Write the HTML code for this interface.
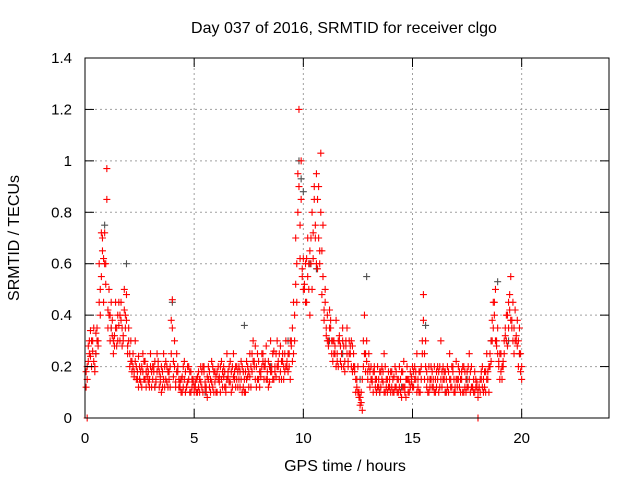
<!DOCTYPE html>
<html><head><meta charset="utf-8"><style>
body{margin:0;background:#fff;}
svg text{font-family:"Liberation Sans",sans-serif;font-size:15px;fill:#000;}
svg text.big{font-size:16px;}
</style></head><body>
<svg id="chart" width="640" height="480" xmlns="http://www.w3.org/2000/svg">
<rect width="640" height="480" fill="#fff"/>
<text class="big" x="344" y="33" text-anchor="middle">Day 037 of 2016, SRMTID for receiver clgo</text>
<text class="big" x="345" y="471" text-anchor="middle">GPS time / hours</text>
<text class="big" transform="translate(19,238) rotate(-90)" text-anchor="middle">SRMTID / TECUs</text>
<g id="grid"></g>
<g id="marks"></g>
<g id="axes"></g>
</svg>
<script>
const xTicks=[0,5,10,15,20];
const yTicks=[0,0.2,0.4,0.6,0.8,1,1.2,1.4];
const yTickLabels=["0","0.2","0.4","0.6","0.8","1","1.2","1.4"];
const hours=[];
for(let i=1;i<=200;i++)hours.push(+(i*0.1).toFixed(1));
const hoursHalf=[];
for(let i=1;i<=200;i++)hoursHalf.push(+(i*0.1-0.05).toFixed(2));
const redA=[.2,.25,.3,.22,.33,.28,.4,.7,.6,.97,
.5,.35,.3,.45,.4,.3,.35,.5,.48,.35,
.3,.25,.22,.18,.15,.2,.15,.12,.18,.2,
.15,.22,.18,.12,.2,.25,.15,.18,.12,.46,
.3,.18,.12,.15,.2,.1,.14,.18,.12,.1,
.15,.12,.2,.1,.14,.16,.12,.22,.18,.1,
.15,.2,.12,.18,.25,.14,.1,.16,.2,.12,
.18,.1,.15,.22,.12,.2,.3,.15,.25,.18,
.2,.15,.28,.12,.18,.25,.2,.3,.15,.22,
.2,.3,.25,.15,.35,.3,.6,1.2,.85,.5,
.45,.55,.65,.8,.9,.95,.7,1.03,.75,.5,
.4,.35,.3,.25,.38,.2,.28,.3,.22,.35,
.25,.3,.2,.15,.1,.05,.03,.25,.3,.2,
.15,.18,.12,.2,.1,.15,.25,.12,.18,.1,
.15,.2,.1,.12,.18,.22,.08,.15,.12,.2,
.15,.25,.1,.2,.48,.3,.15,.12,.18,.1,
.12,.18,.3,.15,.1,.2,.25,.12,.15,.22,
.15,.1,.2,.12,.18,.25,.12,.1,.15,.08,
.15,.2,.12,.25,.1,.3,.45,.5,.35,.25,
.2,.3,.4,.35,.55,.45,.3,.38,.25,.2];
const redB=[.15,.3,.2,.35,.25,.3,.5,.65,.72,.85,
.4,.45,.25,.35,.3,.4,.28,.42,.38,.3,
.22,.2,.3,.15,.2,.12,.22,.18,.14,.25,
.2,.12,.25,.18,.1,.15,.22,.12,.2,.35,
.2,.25,.15,.1,.12,.18,.2,.1,.15,.12,
.1,.18,.14,.2,.12,.08,.18,.14,.1,.16,
.2,.1,.18,.12,.15,.2,.18,.25,.12,.18,
.12,.2,.1,.15,.18,.12,.22,.28,.15,.12,
.25,.2,.15,.22,.3,.15,.18,.2,.25,.15,
.15,.2,.18,.3,.22,.4,.45,.9,1.0,.62,
.6,.7,.4,.5,.85,.6,.9,.8,.55,.45,
.3,.42,.25,.3,.2,.3,.22,.35,.18,.25,
.3,.2,.25,.1,.2,.08,.15,.4,.22,.25,
.2,.1,.15,.12,.18,.2,.1,.15,.12,.18,
.1,.12,.15,.2,.08,.12,.15,.1,.18,.12,
.2,.1,.18,.15,.38,.2,.1,.15,.12,.2,
.18,.1,.15,.2,.18,.12,.15,.2,.1,.15,
.2,.15,.1,.18,.12,.15,.2,.15,.12,.1,
.1,.12,.18,.15,.2,.22,.35,.3,.25,.15,
.15,.25,.3,.45,.38,.3,.42,.28,.35,.15];
const redC=[.12,.22,.34,.26,.18,.3,.45,.55,.62,.52,
.42,.3,.38,.32,.28,.36,.45,.32,.4,.28,
.25,.18,.16,.2,.24,.14,.18,.22,.16,.12,
.18,.2,.14,.22,.16,.12,.2,.14,.18,.38,
.16,.14,.2,.12,.16,.22,.12,.15,.18,.14,
.12,.16,.1,.18,.2,.12,.15,.1,.2,.14,
.18,.14,.22,.16,.1,.18,.22,.12,.15,.2,
.15,.22,.18,.1,.2,.16,.25,.2,.12,.22,
.16,.22,.2,.18,.14,.2,.26,.16,.22,.18,
.25,.18,.22,.2,.28,.25,.52,.8,.75,.55,
.5,.45,.6,.7,.62,.75,.85,.6,.65,.42,
.35,.3,.38,.22,.28,.25,.32,.2,.28,.3,
.2,.25,.28,.18,.15,.1,.06,.3,.18,.15,
.18,.14,.2,.15,.12,.18,.14,.2,.1,.15,
.12,.16,.18,.1,.15,.12,.1,.2,.14,.16,
.12,.18,.15,.1,.3,.25,.18,.2,.15,.12,
.15,.2,.12,.18,.15,.1,.18,.15,.2,.12,
.12,.18,.15,.2,.1,.12,.18,.12,.18,.14,
.12,.15,.1,.18,.15,.25,.3,.4,.28,.2,
.18,.22,.35,.28,.42,.35,.25,.32,.3,.18];
const redD=[.18,.28,.24,.3,.2,.35,.6,.72,.45,.6,
.35,.4,.32,.28,.35,.45,.38,.3,.35,.25,
.2,.22,.18,.15,.12,.18,.25,.15,.2,.15,
.12,.18,.15,.2,.14,.18,.12,.2,.15,.25,
.22,.12,.18,.14,.1,.15,.12,.2,.1,.15,
.14,.1,.15,.12,.18,.1,.2,.15,.12,.18,
.1,.16,.15,.2,.12,.16,.14,.2,.18,.15,
.2,.15,.12,.18,.16,.25,.18,.22,.2,.15,
.18,.25,.22,.15,.2,.18,.15,.25,.2,.28,
.22,.25,.2,.25,.3,.45,.7,.95,.62,.58,
.52,.62,.5,.6,.72,.7,.58,.65,.48,.38,
.32,.28,.35,.3,.25,.22,.3,.25,.2,.28,
.22,.28,.18,.2,.12,.08,.1,.2,.25,.18,
.12,.15,.18,.1,.15,.12,.18,.1,.15,.12,
.18,.1,.12,.15,.1,.18,.12,.15,.1,.14,
.18,.15,.12,.18,.25,.15,.12,.1,.2,.15,
.1,.15,.2,.12,.18,.15,.1,.12,.18,.1,
.15,.12,.18,.1,.15,.2,.1,.12,.1,.12,
.12,.18,.15,.1,.18,.2,.38,.45,.3,.22,
.25,.2,.32,.4,.48,.38,.35,.3,.2,.25];
const greyHours=[0.5,0.9,1.2,1.9,2.5,3.2,4.0,5.5,6.5,7.3,8.5,9.3,9.8,9.9,10.0,10.3,10.6,11.2,11.8,12.6,12.9,13.5,14.5,15.6,16.5,17.5,18.6,18.9,19.4,19.9];
const greyVals=[.25,.75,.35,.6,.15,.12,.45,.1,.15,.36,.2,.3,1.0,.93,.88,.6,.58,.3,.25,.15,.55,.1,.12,.36,.1,.15,.3,.53,.3,.25];
const extraHours=[0.1,18.0];
const extraVals=[0,0];

const L=85,R=609,T=58,B=418;
const xs=h=>L+h/24*(R-L);
const ys=v=>B-v/1.4*(B-T);
const NS="http://www.w3.org/2000/svg";
function mk(tag,attrs,parent){const e=document.createElementNS(NS,tag);for(const k in attrs)e.setAttribute(k,attrs[k]);parent.appendChild(e);return e;}
const grid=document.getElementById('grid'),axes=document.getElementById('axes'),marks=document.getElementById('marks');
yTicks.forEach((v,i)=>{
  const y=ys(v);
  if(i>0&&i<yTicks.length-1){const g=mk('line',{x1:L,x2:R,y1:y,y2:y,stroke:'#a0a0a0','stroke-dasharray':'2,3'},grid);
  
  }
  mk('line',{x1:L,x2:L+9,y1:y,y2:y,stroke:'#000'},axes);
  mk('line',{x1:R,x2:R-9,y1:y,y2:y,stroke:'#000'},axes);
  const t=mk('text',{x:L-13,y:y+5,'text-anchor':'end'},axes);t.textContent=yTickLabels[i];
  
  
});
xTicks.forEach(h=>{
  const x=xs(h);
  if(h>0){const g=mk('line',{x1:x,x2:x,y1:T,y2:B,stroke:'#a0a0a0','stroke-dasharray':'2,3'},grid);
  
  }
  mk('line',{x1:x,x2:x,y1:B,y2:B-9,stroke:'#000'},axes);
  mk('line',{x1:x,x2:x,y1:T,y2:T+9,stroke:'#000'},axes);
  const t=mk('text',{x:x,y:B+25,'text-anchor':'middle'},axes);t.textContent=String(h);
  
  
});
const fr=mk('rect',{x:L,y:T,width:R-L,height:B-T,fill:'none',stroke:'#000'},axes);


function plus(hs,vs,color,name){
  let d='';
  for(let i=0;i<vs.length;i++){const x=xs(hs[i]),y=ys(vs[i]);d+=`M${x-3.5},${y}h7M${x},${y-3.5}v7`;}
  const p=mk('path',{d:d,stroke:color,'stroke-width':1.1,fill:'none'},marks);
  
  
}
plus(greyHours,greyVals,'#505050','grey-series');
plus(hours,redA,'#ff0000','red-series-a');
plus(hours,redB,'#ff0000','red-series-b');
plus(hoursHalf,redC,'#ff0000','red-series-c');
plus(hoursHalf,redD,'#ff0000','red-series-d');
plus(extraHours,extraVals,'#ff0000','red-series-zero');
</script>
</body></html>
